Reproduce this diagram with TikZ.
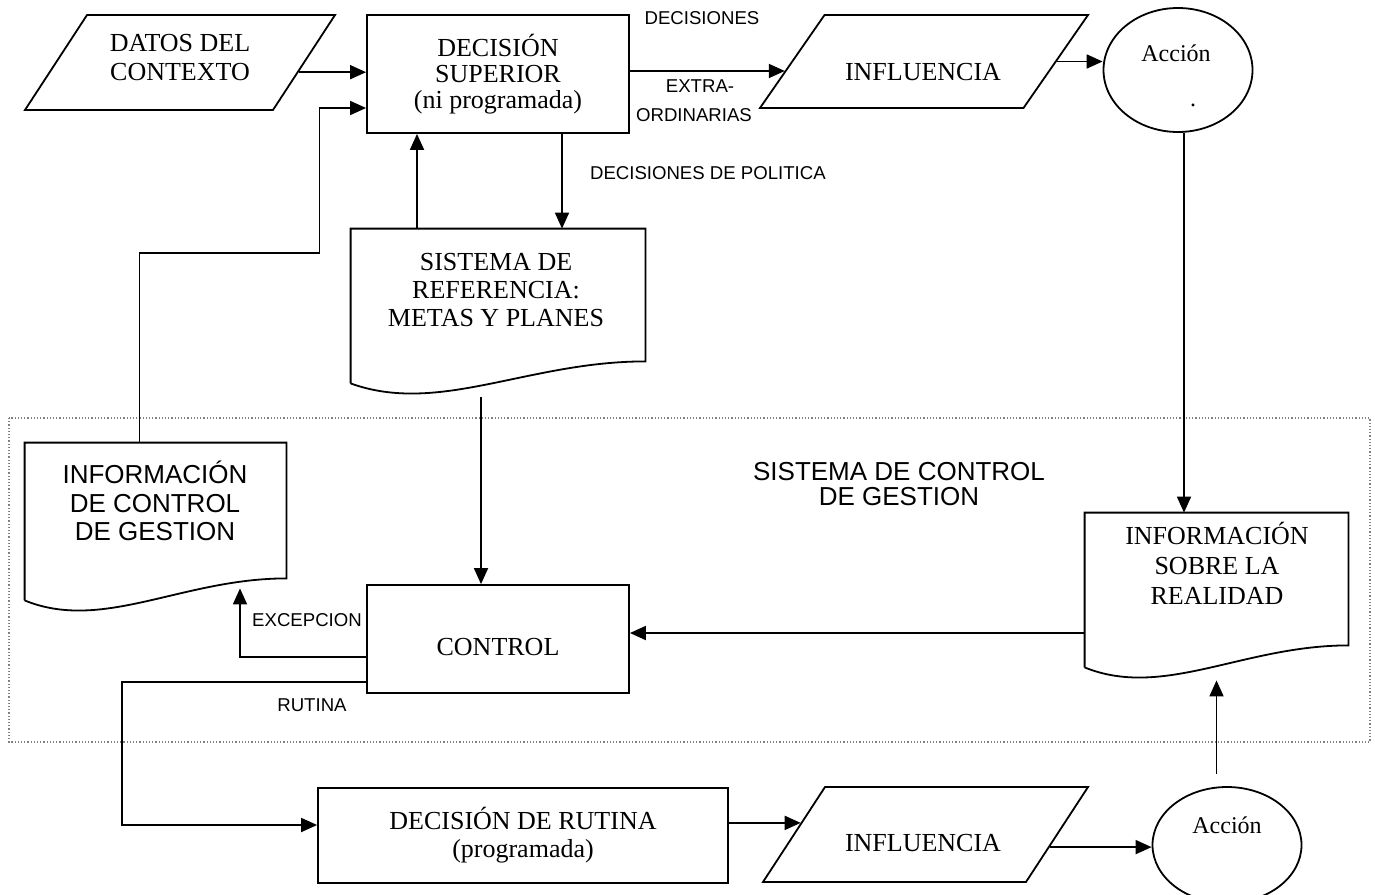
\documentclass[tikz,border=0pt]{standalone}
\usepackage{fontspec}
\setmainfont{Liberation Serif}
\setsansfont{Liberation Sans}
\usetikzlibrary{shapes.geometric,arrows.meta,calc}

% hoja con borde ondulado abajo: nombre, ancho
\newcommand{\hoja}[2]{%
  \draw[caja] (#1.south west) -- (#1.north west) -- (#1.north east) -- ([yshift=11pt]#1.south east)
    .. controls +(-0.4*#2,0) and +(0.3*#2,32) .. (#1.south west);}

\tikzset{
  caja/.style={draw, line width=0.9pt},
  rect/.style={caja, rectangle, inner sep=0pt, font=\fontsize{13}{13}\selectfont, align=center},
  paral/.style={caja, rectangle, inner sep=0pt},
  elip/.style={caja, ellipse, inner sep=0pt, minimum width=74.5pt},
  hojabox/.style={rectangle, inner sep=0pt},
  txt/.style={font=\fontsize{13}{14.2}\selectfont, align=center},
  txtsf/.style={font=\sffamily\fontsize{13}{14.2}\selectfont, align=center},
  etiq/.style={font=\sffamily\fontsize{9.3}{11}\selectfont},
  flecha/.style={line width=0.9pt, -{Triangle[length=8pt,width=7pt]}},
}

\begin{document}
\begin{tikzpicture}[x=0.5pt, y=-0.5pt]
  \useasboundingbox (0,0) rectangle (1375,894);

  % Recuadro del sistema de control
  \draw[densely dotted, gray, line width=0.6pt] (9,418) rectangle (1370,742);
  \node[txtsf, font=\sffamily\fontsize{13}{12.5}\selectfont] (tsist) at (899,484) {SISTEMA DE CONTROL\\DE GESTION};

  % Nivel superior
  \node[paral, xslant=0.653, minimum width=124pt, minimum height=47.5pt] (datos) at (180,62.5) {};
  \node[txt, font=\fontsize{13}{14.5}\selectfont] (tdatos) at (180,57.5) {DATOS DEL\\CONTEXTO};
  \node[rect, minimum width=131pt, minimum height=59pt] (decsup) at (498,74) {DECISIÓN\\SUPERIOR\\(ni programada)};
  \node[paral, xslant=0.694, minimum width=131.75pt, minimum height=46.5pt] (influ1) at (924,61.5) {};
  \node[txt] (tinflu1) at (923,72) {INFLUENCIA};
  \node[elip, minimum height=62pt] (acc1) at (1178,70) {};
  \node[txt, font=\fontsize{12}{14}\selectfont] (tacc1) at (1176,53) {Acción};
  \node[txt, font=\fontsize{12}{14}\selectfont] (punto) at (1193,105) {.};

  % Sistema de referencia
  \node[hojabox, minimum width=147pt, minimum height=77pt] (sref) at (498,306) {};
  \hoja{sref}{294}
  \node[txt] (tsref) at (496,290) {SISTEMA DE\\REFERENCIA:\\METAS Y PLANES};

  % Informacion de control
  \node[hojabox, minimum width=130.5pt, minimum height=78.5pt] (ictrl) at (155.5,521.5) {};
  \hoja{ictrl}{261}
  \node[txtsf] (tictrl) at (155,501) {INFORMACIÓN\\DE CONTROL\\DE GESTION};

  % Control
  \node[rect, minimum width=131pt, minimum height=54pt] (control) at (498,639) {};
  \node[txt] (tcontrol) at (498,647) {CONTROL};

  % Informacion sobre la realidad
  \node[hojabox, minimum width=131.5pt, minimum height=77pt] (ireal) at (1216.5,590) {};
  \hoja{ireal}{263}
  \node[txt, font=\fontsize{13}{15}\selectfont] (tireal) at (1217,563) {INFORMACIÓN\\SOBRE LA\\REALIDAD};

  % Nivel de rutina
  \node[rect, minimum width=205pt, minimum height=47.5pt, font=\fontsize{13}{14}\selectfont] (rutina) at (523,835.5) {DECISIÓN DE RUTINA\\(programada)};
  \node[paral, xslant=0.653, minimum width=131.5pt, minimum height=47.5pt] (influ2) at (925.5,834.5) {};
  \node[txt] (tinflu2) at (923,843) {INFLUENCIA};
  \node[elip, minimum height=58pt] (acc2) at (1227,845) {};
  \node[txt, font=\fontsize{12}{14}\selectfont] (tacc2) at (1227,825) {Acción};

  % Etiquetas
  \node[etiq] (ldec1) at (702,18) {DECISIONES};
  \node[etiq] (ldec2) at (700,86) {EXTRA-};
  \node[etiq] (ldec3) at (694,115) {ORDINARIAS};
  \node[etiq, anchor=west] (lpol) at (583,173) {DECISIONES DE POLITICA};
  \node[etiq] (lexc) at (307,620) {EXCEPCION};
  \node[etiq] (lrut) at (312,705) {RUTINA};

  % Flechas
  \coordinate (s1) at ($(datos.north east)!0.6!(datos.south east)$);
  \draw[flecha] (s1) -- (s1 -| decsup.west);
  \draw[flecha] ([xshift=-8pt]ictrl.north) -- ++(0,-190) -- ++(180,0) |- ([yshift=-17pt]decsup.west);
  \draw[flecha] ([xshift=-40.5pt]sref.north) -- ([xshift=-40.5pt]decsup.south);
  \draw[flecha] ([xshift=32pt]decsup.south) -- ([xshift=32pt]sref.north);
  \coordinate (e1) at ($(influ1.south west)!0.4!(influ1.north west)$);
  \draw[flecha] (e1 -| decsup.east) -- (e1);
  \coordinate (e2) at ($(influ1.north east)!0.5!(influ1.south east)$);
  \draw[flecha] (e2) -- (e2 -| acc1.west);
  \coordinate (a1) at ([xshift=3pt]acc1.south);
  \draw[flecha] (a1) -- (a1 |- ireal.north);
  \draw[flecha] ([xshift=-8.5pt,yshift=-7pt]sref.south) -- ([xshift=-8.5pt]control.north);
  \coordinate (c1) at ([yshift=3pt]control.east);
  \draw[flecha] (c1 -| ireal.west) -- (c1);
  \draw[flecha] ([yshift=-9pt]control.west) -| ([xshift=42.25pt,yshift=6pt]ictrl.south);
  \draw[flecha] ([yshift=-21.5pt]control.west) -- ++(-244,0) |- ([yshift=5.25pt]rutina.west);
  \coordinate (e3) at ($(influ2.south west)!0.62!(influ2.north west)$);
  \draw[flecha] (e3 -| rutina.east) -- (e3);
  \coordinate (e4) at ($(influ2.north east)!0.63!(influ2.south east)$);
  \draw[flecha] (e4) -- (e4 -| acc2.west);
  \coordinate (a2) at ($(ireal.south |- acc2.north)+(0,-12)$);
  \draw[flecha] (a2) -- ([yshift=-6.5pt]ireal.south);
\end{tikzpicture}
\end{document}
